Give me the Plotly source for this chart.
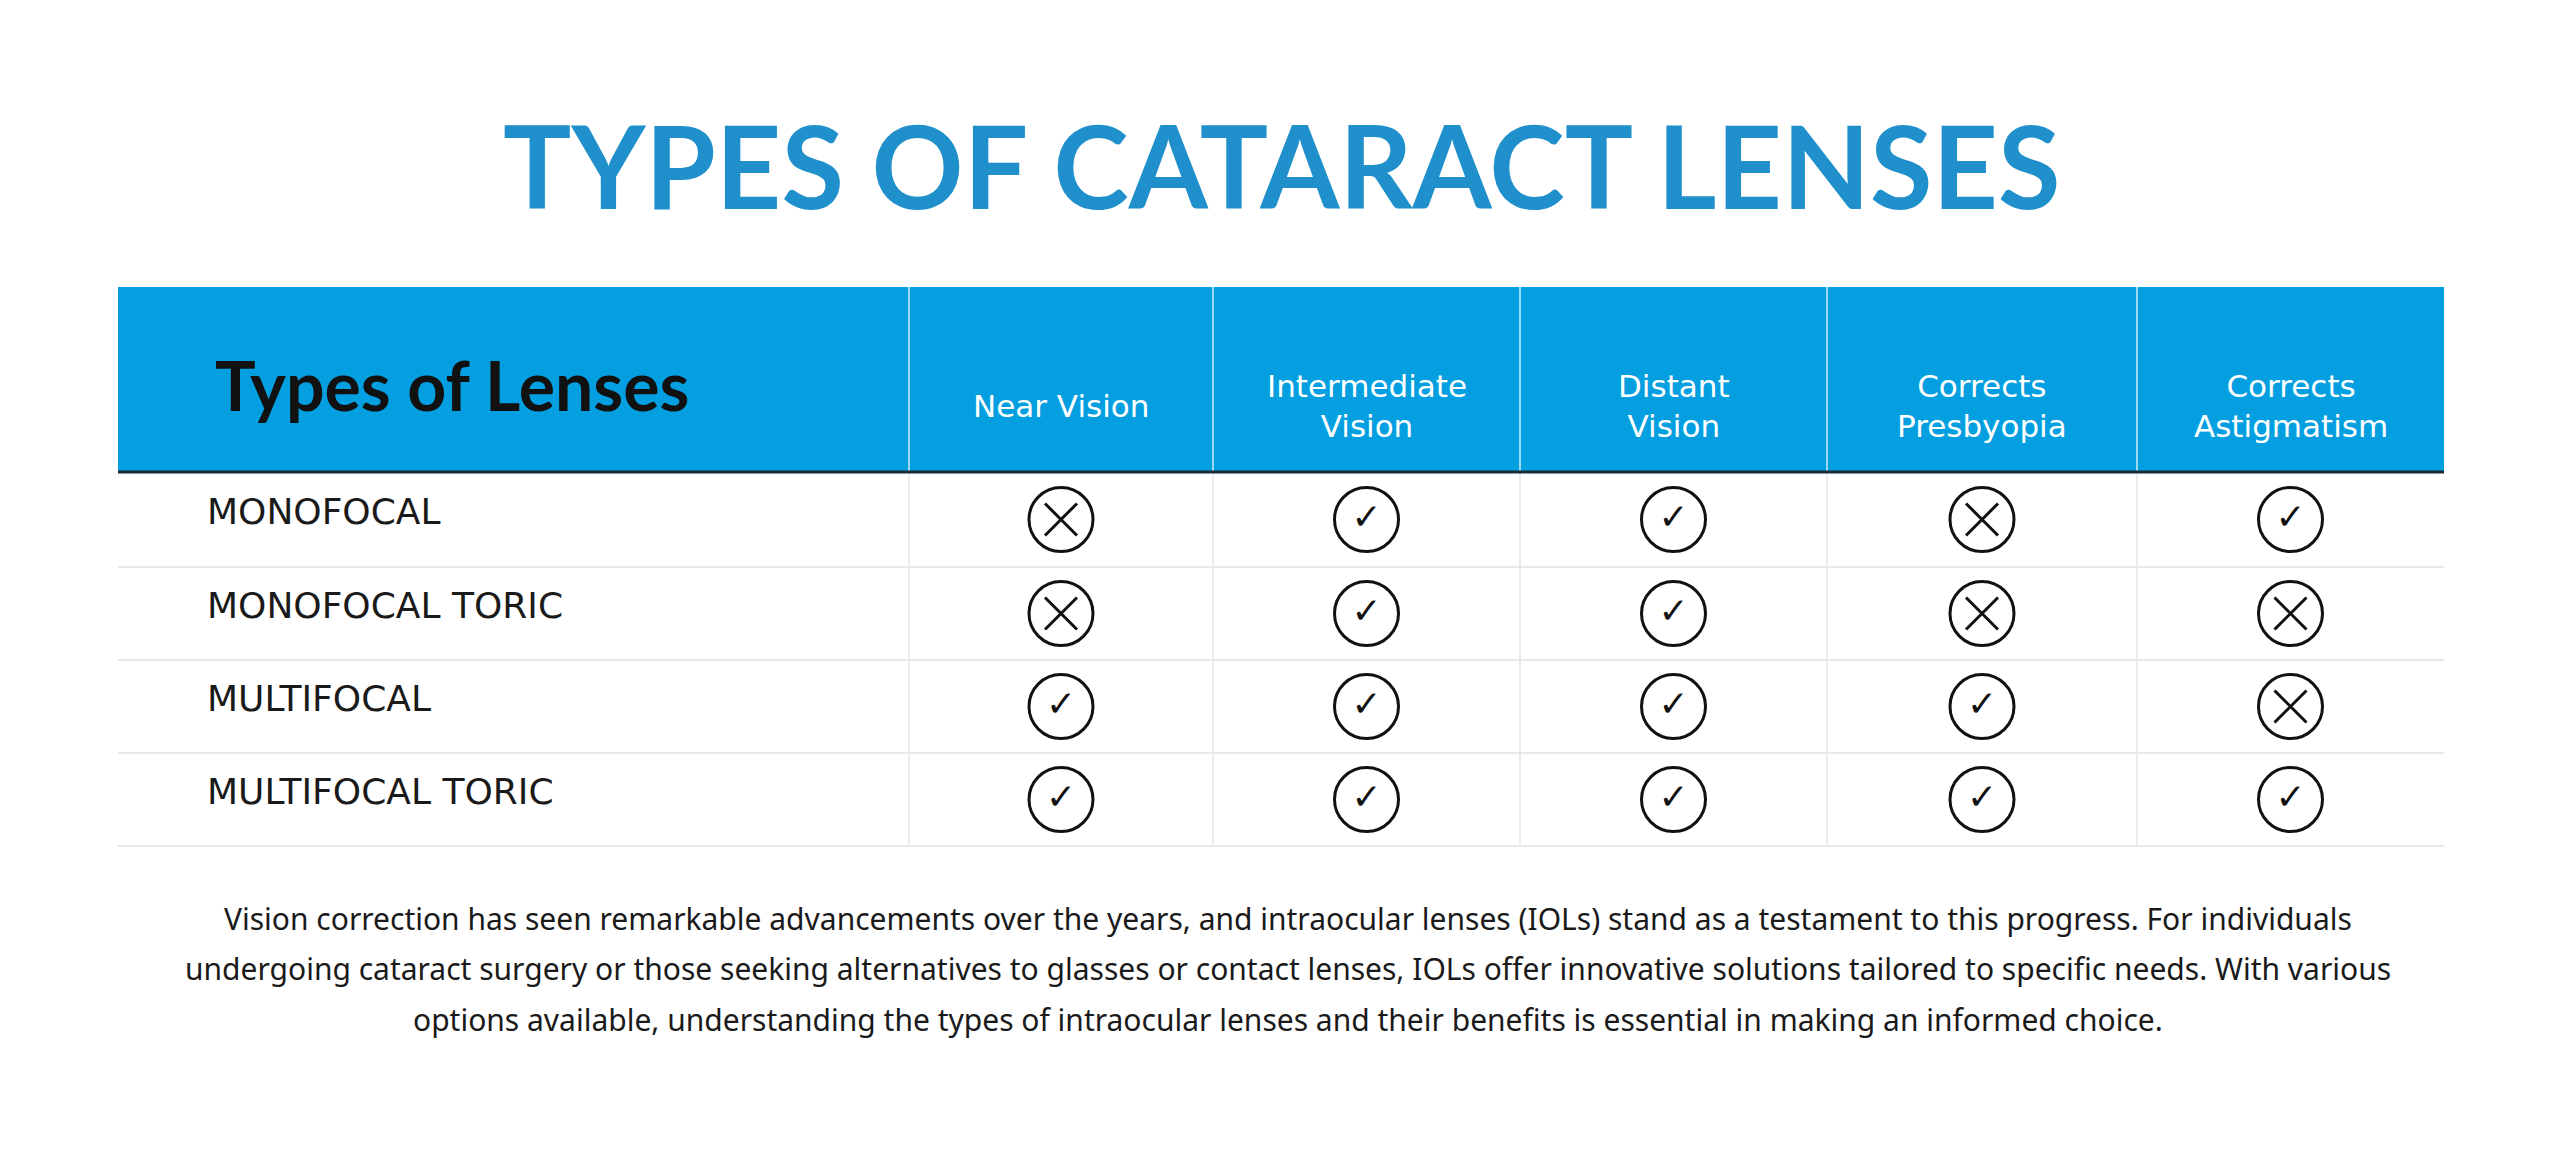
import plotly.graph_objects as go

title = "TYPES OF CATARACT LENSES"
corner_label = "Types of Lenses"
columns = ["Near Vision", "Intermediate<br>Vision", "Distant<br>Vision", "Corrects<br>Presbyopia", "Corrects<br>Astigmatism"]
lens_types = ["MONOFOCAL", "MONOFOCAL TORIC", "MULTIFOCAL", "MULTIFOCAL TORIC"]
# 1 = check, 0 = cross
support = [
    [0, 1, 1, 0, 1],
    [0, 1, 1, 0, 0],
    [1, 1, 1, 1, 0],
    [1, 1, 1, 1, 1],
]
paragraph_lines = [
    "Vision correction has seen remarkable advancements over the years, and intraocular lenses (IOLs) stand as a testament to this progress. For individuals",
    "undergoing cataract surgery or those seeking alternatives to glasses or contact lenses, IOLs offer innovative solutions tailored to specific needs. With various",
    "options available, understanding the types of intraocular lenses and their benefits is essential in making an informed choice.",
]

W, H = 2560, 1163
dx, dy = -8, -8
left, right = 118 + dx, 2444 + dx
col_edges = [left] + [v + dx for v in [909, 1213, 1520, 1827, 2137]] + [right]
head_top, head_bot = 287 + dy, 472 + dy
row_edges = [v + dy for v in [472, 567, 660, 753, 846]]
BLUE = "#049fe0"

fig = go.Figure()
shapes = [dict(type="rect", xref="x", yref="y", x0=left, x1=right, y0=head_top, y1=head_bot,
               fillcolor=BLUE, line=dict(width=0), layer="below")]
for x in col_edges[1:-1]:
    shapes.append(dict(type="line", x0=x, x1=x, y0=head_top, y1=head_bot, line=dict(color="#cfeefb", width=1.5)))
    shapes.append(dict(type="line", x0=x, x1=x, y0=head_bot, y1=row_edges[-1], line=dict(color="#e6e6e6", width=1.5)))
for y in row_edges[1:]:
    shapes.append(dict(type="line", x0=left, x1=right, y0=y, y1=y, line=dict(color="#e8e8e8", width=2)))
shapes.append(dict(type="line", x0=left, x1=right, y0=head_bot, y1=head_bot, line=dict(color="#1a2a33", width=3)))

ann = [dict(x=W/2 - 6, y=156, text=f"<b>{title}</b>", showarrow=False,
            font=dict(family="Lato", size=114, color="#1f90cb")),
       dict(x=205, y=376, text=f"<b>{corner_label}</b>", showarrow=False, xanchor="left",
            font=dict(family="Lato", size=68, color="#111111"))]
for i, line in enumerate(paragraph_lines):
    ann.append(dict(x=W/2, y=[910, 960, 1011][i], text=line, showarrow=False,
                    font=dict(family="Noto Sans", size=30, color="#1a1a1a")))
for i, c in enumerate(columns):
    ann.append(dict(x=(col_edges[i+1]+col_edges[i+2])/2, y=398, text=c, showarrow=False,
                    font=dict(family="DejaVu Sans", size=31, color="white")))
for r, name in enumerate(lens_types):
    ann.append(dict(x=197, y=(row_edges[r]+row_edges[r+1])/2 - 8, text=name, showarrow=False, xanchor="left",
                    font=dict(family="DejaVu Sans", size=36, color="#1a1a1a")))

cx, cy, chk_x, chk_y, crs_x, crs_y = [], [], [], [], [], []
for r in range(len(lens_types)):
    for c in range(len(columns)):
        x = (col_edges[c+1]+col_edges[c+2])/2
        y = (row_edges[r]+row_edges[r+1])/2
        cx.append(x); cy.append(y)
        if support[r][c]:
            chk_x.append(x); chk_y.append(y)
        else:
            crs_x.append(x); crs_y.append(y)

fig.add_trace(go.Scatter(x=cx, y=cy, mode="markers",
                         marker=dict(symbol="circle-open", size=64, line=dict(width=3, color="#111"), color="#111")))
fig.add_trace(go.Scatter(x=crs_x, y=crs_y, mode="markers",
                         marker=dict(symbol="x-thin-open", size=32, line=dict(width=3, color="#111"), color="#111")))
fig.add_trace(go.Scatter(x=chk_x, y=chk_y, mode="text", text=["✓"]*len(chk_x),
                         textfont=dict(family="DejaVu Sans", size=36, color="#111")))

fig.update_layout(width=W, height=H, margin=dict(l=0, r=0, t=0, b=0), showlegend=False,
                  plot_bgcolor="white", paper_bgcolor="white", shapes=shapes, annotations=ann,
                  xaxis=dict(range=[0, W], visible=False, fixedrange=True),
                  yaxis=dict(range=[H, 0], visible=False, fixedrange=True))
fig.write_html("out.html", config={"displayModeBar": False})
